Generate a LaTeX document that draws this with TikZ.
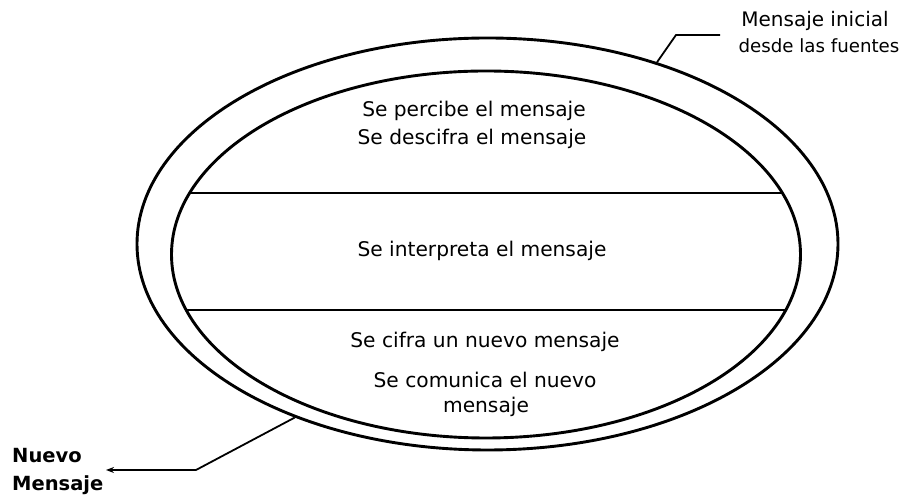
\documentclass[tikz,border=0pt]{standalone}
\usepackage{fontspec}
\setmainfont{DejaVu Sans}
\usetikzlibrary{shapes.geometric,arrows.meta}
\begin{document}
\begin{tikzpicture}[x=1pt,y=1pt,
  ring/.style={draw,ellipse,line width=2.9pt,inner sep=0pt},
  divider/.style={line width=2.4pt},
  leader/.style={line width=1.8pt},
  txt/.style={anchor=base,inner sep=0pt,font=\fontsize{20.2}{24}\selectfont},
  lbl/.style={anchor=base,inner sep=0pt,font=\fontsize{20}{24}\selectfont},
  slbl/.style={anchor=base,inner sep=0pt,font=\fontsize{18.2}{24}\selectfont},
  blbl/.style={anchor=base west,inner sep=0pt,font=\fontsize{19.5}{24}\selectfont\bfseries}]
\useasboundingbox (0,0) rectangle (903,497);
\node[ring,minimum width=701,minimum height=412] (outer) at (487.5,253) {};
\node[ring,minimum width=629,minimum height=367] (inner) at (486,242.5) {};
\begin{scope}
  \clip (486,242.5) ellipse [x radius=314.5,y radius=183.5];
  \draw[divider] (100,304) coordinate (u1) -- (880,304) coordinate (u2);
  \draw[divider] (100,187) coordinate (l1) -- (880,187) coordinate (l2);
\end{scope}
\node[txt] (t1) at (474,380) {Se percibe el mensaje};
\node[txt] (t2) at (472,352) {Se descifra el mensaje};
\node[txt] (t3) at (482,240) {Se interpreta el mensaje};
\node[txt] (t4) at (485,149) {Se cifra un nuevo mensaje};
\node[txt] (t5) at (485,109) {Se comunica el nuevo};
\node[txt] (t6) at (486,84) {mensaje};
\node[lbl] (m1) at (815,470) {Mensaje inicial};
\node[slbl] (m2) at (819,444) {desde las fuentes};
\node[blbl] (n1) at (12,34) {Nuevo};
\node[blbl] (n2) at (12,6) {Mensaje};
\coordinate (topknee) at (676,462);
\coordinate (topend) at (720,462);
\draw[leader] (outer.47.5) -- (topknee) -- (topend);
\coordinate (botknee) at (196,27);
\coordinate (botend) at (106,27);
\draw[leader,-{Stealth[length=8pt,width=6pt]}] (outer.222.4) -- (botknee) -- (botend);
\end{tikzpicture}
\end{document}
